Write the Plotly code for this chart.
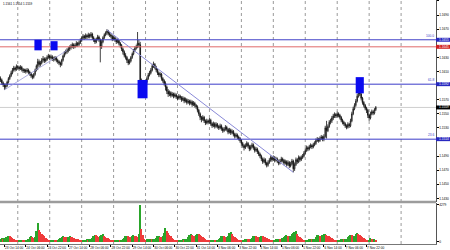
import plotly.graph_objects as go

# ---------------- data (EURUSD H1) ----------------
first_open = 1.1600
closes = [
    1.1598, 1.1594, 1.1591, 1.1588, 1.1590, 1.1595, 1.1600, 1.1604, 1.1608, 1.1612,
    1.1615, 1.1613, 1.1617, 1.1616, 1.1614, 1.1616, 1.1613, 1.1611, 1.1612, 1.1610,
    1.1612, 1.1609, 1.1607, 1.1604, 1.1602, 1.1606, 1.1612, 1.1618, 1.1624, 1.1620,
    1.1622, 1.1626, 1.1628, 1.1625, 1.1627, 1.1630, 1.1632, 1.1629, 1.1631, 1.1628,
    1.1627, 1.1630, 1.1626, 1.1624, 1.1622, 1.1620, 1.1626, 1.1632, 1.1636, 1.1638,
    1.1640, 1.1642, 1.1644, 1.1646, 1.1648, 1.1645, 1.1647, 1.1650, 1.1648, 1.1651,
    1.1654, 1.1657, 1.1660, 1.1658, 1.1661, 1.1659, 1.1662, 1.1660, 1.1663, 1.1658,
    1.1655, 1.1652, 1.1656, 1.1659, 1.1655, 1.1645, 1.1652, 1.1658, 1.1662, 1.1665,
    1.1667, 1.1664, 1.1662, 1.1660, 1.1656, 1.1658, 1.1655, 1.1652, 1.1654, 1.1650,
    1.1647, 1.1642, 1.1638, 1.1633, 1.1630, 1.1626, 1.1622, 1.1625, 1.1630, 1.1635,
    1.1640, 1.1643, 1.1645, 1.1650, 1.1648, 1.1596, 1.1590, 1.1586, 1.1590, 1.1595,
    1.1600, 1.1605, 1.1608, 1.1612, 1.1618, 1.1620, 1.1616, 1.1612, 1.1608, 1.1605,
    1.1606, 1.1600, 1.1597, 1.1593, 1.1588, 1.1582, 1.1578, 1.1580, 1.1576, 1.1578,
    1.1575, 1.1577, 1.1574, 1.1572, 1.1575, 1.1573, 1.1570, 1.1572, 1.1568, 1.1570,
    1.1566, 1.1568, 1.1565, 1.1567, 1.1563, 1.1565, 1.1562, 1.1560, 1.1555, 1.1550,
    1.1545, 1.1542, 1.1545, 1.1540, 1.1537, 1.1540, 1.1538, 1.1541, 1.1536, 1.1533,
    1.1536, 1.1532, 1.1535, 1.1532, 1.1530, 1.1533, 1.1529, 1.1526, 1.1528, 1.1531,
    1.1528, 1.1524, 1.1527, 1.1523, 1.1525, 1.1521, 1.1518, 1.1520, 1.1517, 1.1515,
    1.1512, 1.1508, 1.1505, 1.1502, 1.1505, 1.1508, 1.1504, 1.1500, 1.1503, 1.1506,
    1.1502, 1.1498, 1.1500, 1.1496, 1.1493, 1.1490, 1.1486, 1.1482, 1.1485, 1.1480,
    1.1477, 1.1481, 1.1484, 1.1488, 1.1485, 1.1488, 1.1484, 1.1486, 1.1483, 1.1480,
    1.1483, 1.1486, 1.1484, 1.1480, 1.1482, 1.1478, 1.1481, 1.1476, 1.1479, 1.1483,
    1.1472, 1.1478, 1.1485, 1.1482, 1.1488, 1.1485, 1.1488, 1.1490, 1.1494, 1.1498,
    1.1502, 1.1500, 1.1503, 1.1505, 1.1503, 1.1506, 1.1508, 1.1512, 1.1514, 1.1512,
    1.1515, 1.1517, 1.1514, 1.1518, 1.1530, 1.1526, 1.1532, 1.1538, 1.1540, 1.1544,
    1.1547, 1.1549, 1.1547, 1.1550, 1.1548, 1.1545, 1.1541, 1.1538, 1.1536, 1.1533,
    1.1531, 1.1535, 1.1533, 1.1540, 1.1550, 1.1557, 1.1562, 1.1568, 1.1575, 1.1580,
    1.1578, 1.1572, 1.1566, 1.1562, 1.1558, 1.1555, 1.1548, 1.1544, 1.1550, 1.1553,
    1.1551, 1.1556, 1.1559,
]
highs = [
    1.1603, 1.1600, 1.1596, 1.1593, 1.1593, 1.1597, 1.1602, 1.1606, 1.1611, 1.1615,
    1.1618, 1.1617, 1.1620, 1.1619, 1.1618, 1.1619, 1.1618, 1.1615, 1.1614, 1.1614,
    1.1615, 1.1614, 1.1611, 1.1609, 1.1606, 1.1608, 1.1614, 1.1620, 1.1628, 1.1627,
    1.1625, 1.1629, 1.1632, 1.1630, 1.1630, 1.1633, 1.1635, 1.1634, 1.1634, 1.1633,
    1.1631, 1.1632, 1.1631, 1.1628, 1.1626, 1.1624, 1.1628, 1.1634, 1.1639, 1.1641,
    1.1643, 1.1645, 1.1647, 1.1649, 1.1651, 1.1650, 1.1650, 1.1653, 1.1652, 1.1654,
    1.1657, 1.1660, 1.1663, 1.1662, 1.1664, 1.1663, 1.1665, 1.1664, 1.1666, 1.1665,
    1.1660, 1.1657, 1.1658, 1.1662, 1.1661, 1.1657, 1.1655, 1.1660, 1.1664, 1.1667,
    1.1670, 1.1669, 1.1666, 1.1664, 1.1662, 1.1661, 1.1660, 1.1657, 1.1657, 1.1656,
    1.1652, 1.1649, 1.1644, 1.1640, 1.1636, 1.1632, 1.1628, 1.1628, 1.1632, 1.1637,
    1.1642, 1.1646, 1.1648, 1.1666, 1.1655, 1.1652, 1.1600, 1.1594, 1.1593, 1.1598,
    1.1603, 1.1608, 1.1611, 1.1615, 1.1621, 1.1624, 1.1622, 1.1618, 1.1614, 1.1610,
    1.1609, 1.1608, 1.1602, 1.1599, 1.1596, 1.1590, 1.1585, 1.1583, 1.1582, 1.1581,
    1.1580, 1.1580, 1.1579, 1.1576, 1.1578, 1.1577, 1.1575, 1.1575, 1.1574, 1.1573,
    1.1572, 1.1571, 1.1570, 1.1570, 1.1569, 1.1568, 1.1567, 1.1564, 1.1562, 1.1557,
    1.1552, 1.1547, 1.1548, 1.1547, 1.1542, 1.1543, 1.1542, 1.1544, 1.1543, 1.1538,
    1.1539, 1.1538, 1.1538, 1.1537, 1.1534, 1.1536, 1.1535, 1.1531, 1.1531, 1.1534,
    1.1533, 1.1530, 1.1530, 1.1529, 1.1528, 1.1527, 1.1523, 1.1523, 1.1522, 1.1519,
    1.1517, 1.1514, 1.1510, 1.1507, 1.1508, 1.1511, 1.1510, 1.1506, 1.1506, 1.1509,
    1.1508, 1.1504, 1.1503, 1.1502, 1.1498, 1.1495, 1.1492, 1.1488, 1.1488, 1.1487,
    1.1482, 1.1484, 1.1487, 1.1491, 1.1490, 1.1491, 1.1490, 1.1489, 1.1488, 1.1485,
    1.1486, 1.1489, 1.1488, 1.1486, 1.1485, 1.1484, 1.1484, 1.1483, 1.1482, 1.1486,
    1.1485, 1.1481, 1.1488, 1.1487, 1.1491, 1.1490, 1.1491, 1.1493, 1.1497, 1.1501,
    1.1505, 1.1504, 1.1506, 1.1508, 1.1507, 1.1509, 1.1511, 1.1515, 1.1517, 1.1516,
    1.1518, 1.1520, 1.1519, 1.1521, 1.1533, 1.1540, 1.1535, 1.1541, 1.1543, 1.1547,
    1.1550, 1.1552, 1.1551, 1.1553, 1.1552, 1.1550, 1.1547, 1.1543, 1.1540, 1.1538,
    1.1535, 1.1538, 1.1537, 1.1543, 1.1553, 1.1560, 1.1565, 1.1571, 1.1578, 1.1583,
    1.1585, 1.1580, 1.1574, 1.1568, 1.1564, 1.1560, 1.1557, 1.1550, 1.1553, 1.1556,
    1.1555, 1.1558, 1.1561,
]
lows = [
    1.1595, 1.1591, 1.1588, 1.1584, 1.1585, 1.1588, 1.1593, 1.1598, 1.1602, 1.1606,
    1.1610, 1.1610, 1.1611, 1.1613, 1.1611, 1.1612, 1.1610, 1.1608, 1.1608, 1.1607,
    1.1608, 1.1606, 1.1604, 1.1601, 1.1599, 1.1600, 1.1604, 1.1610, 1.1612, 1.1616,
    1.1617, 1.1620, 1.1623, 1.1622, 1.1623, 1.1625, 1.1628, 1.1626, 1.1627, 1.1625,
    1.1624, 1.1625, 1.1623, 1.1621, 1.1619, 1.1616, 1.1618, 1.1624, 1.1630, 1.1634,
    1.1635, 1.1637, 1.1639, 1.1641, 1.1643, 1.1642, 1.1643, 1.1645, 1.1645, 1.1646,
    1.1649, 1.1652, 1.1655, 1.1655, 1.1656, 1.1656, 1.1657, 1.1657, 1.1658, 1.1655,
    1.1652, 1.1649, 1.1650, 1.1654, 1.1652, 1.1623, 1.1642, 1.1650, 1.1656, 1.1660,
    1.1662, 1.1661, 1.1659, 1.1657, 1.1653, 1.1654, 1.1652, 1.1649, 1.1650, 1.1647,
    1.1644, 1.1639, 1.1634, 1.1630, 1.1627, 1.1622, 1.1619, 1.1620, 1.1623, 1.1628,
    1.1633, 1.1638, 1.1641, 1.1643, 1.1644, 1.1590, 1.1585, 1.1582, 1.1583, 1.1588,
    1.1593, 1.1598, 1.1603, 1.1606, 1.1610, 1.1615, 1.1613, 1.1609, 1.1605, 1.1602,
    1.1602, 1.1597, 1.1594, 1.1590, 1.1583, 1.1578, 1.1574, 1.1575, 1.1573, 1.1574,
    1.1572, 1.1573, 1.1571, 1.1569, 1.1570, 1.1570, 1.1567, 1.1568, 1.1565, 1.1566,
    1.1563, 1.1564, 1.1562, 1.1563, 1.1560, 1.1561, 1.1559, 1.1557, 1.1552, 1.1547,
    1.1541, 1.1538, 1.1540, 1.1537, 1.1534, 1.1535, 1.1535, 1.1536, 1.1533, 1.1530,
    1.1531, 1.1529, 1.1530, 1.1529, 1.1527, 1.1528, 1.1526, 1.1523, 1.1524, 1.1526,
    1.1525, 1.1521, 1.1522, 1.1520, 1.1521, 1.1518, 1.1515, 1.1516, 1.1514, 1.1512,
    1.1509, 1.1505, 1.1502, 1.1498, 1.1500, 1.1503, 1.1501, 1.1497, 1.1498, 1.1501,
    1.1499, 1.1495, 1.1496, 1.1493, 1.1490, 1.1487, 1.1483, 1.1479, 1.1480, 1.1477,
    1.1474, 1.1475, 1.1479, 1.1482, 1.1482, 1.1483, 1.1481, 1.1482, 1.1480, 1.1477,
    1.1478, 1.1481, 1.1481, 1.1477, 1.1478, 1.1475, 1.1476, 1.1473, 1.1474, 1.1477,
    1.1467, 1.1469, 1.1476, 1.1479, 1.1480, 1.1482, 1.1483, 1.1486, 1.1488, 1.1492,
    1.1496, 1.1497, 1.1498, 1.1501, 1.1500, 1.1501, 1.1504, 1.1506, 1.1510, 1.1509,
    1.1510, 1.1513, 1.1511, 1.1511, 1.1516, 1.1515, 1.1524, 1.1530, 1.1535, 1.1537,
    1.1541, 1.1544, 1.1544, 1.1545, 1.1545, 1.1542, 1.1538, 1.1535, 1.1533, 1.1530,
    1.1528, 1.1529, 1.1530, 1.1531, 1.1538, 1.1548, 1.1555, 1.1560, 1.1566, 1.1573,
    1.1575, 1.1569, 1.1563, 1.1559, 1.1555, 1.1551, 1.1544, 1.1540, 1.1542, 1.1548,
    1.1548, 1.1549, 1.1554,
]
volumes = [
    380, 420, 350, 460, 520, 600, 720, 640, 560, 430, 350, 260, 180,
    140, 170, 210, 240, 220, 200, 230, 260, 330, 560, 620, 540, 500, 580, 1250, 2200, 1400, 1150, 900, 780, 620, 450, 300, 190,
    150, 180, 220, 260, 240, 230, 250, 300, 420, 600, 640, 560, 520, 500, 580, 650, 600, 520, 450, 380, 330, 280, 210, 150,
    140, 190, 240, 270, 300, 260, 280, 340, 480, 700, 820, 760, 620, 580, 650, 820, 860, 700, 560, 480, 400, 330, 240, 160,
    130, 170, 210, 240, 260, 230, 250, 300, 420, 620, 700, 640, 560, 540, 620, 760, 700, 620, 580, 900, 4279, 1450, 820, 380,
    260, 300, 320, 330, 340, 300, 320, 380, 480, 620, 680, 600, 580, 640, 1000, 1650, 1200, 980, 760, 620, 480, 380, 260, 180,
    150, 200, 240, 270, 280, 260, 280, 360, 560, 800, 860, 760, 700, 680, 820, 950, 900, 780, 640, 520, 420, 340, 250, 170,
    130, 190, 230, 260, 250, 240, 250, 300, 480, 660, 700, 620, 560, 600, 720, 980, 1150, 900, 700, 560, 440, 360, 250, 170,
    150, 210, 250, 300, 320, 290, 280, 340, 500, 640, 700, 640, 560, 540, 600, 720, 680, 600, 520, 440, 380, 320, 240, 170,
    160, 220, 280, 340, 380, 360, 340, 400, 560, 700, 760, 700, 640, 680, 860, 980, 1100, 1280, 900, 700, 560, 420, 300, 200,
    160, 210, 260, 300, 320, 300, 300, 360, 520, 760, 820, 720, 680, 740, 880, 900, 840, 720, 620, 520, 420, 340, 250, 170,
    150, 200, 250, 290, 300, 280, 290, 350, 520, 720, 800, 740, 680, 720, 900, 1050, 960, 820, 680, 560, 440, 340, 240, 160,
    260, 420, 300, 280, 320, 150,
]

tick_bars = [3, 19, 35, 51, 67, 83, 99, 115, 131, 147, 163, 179, 195, 211, 227, 243, 259, 275]
tick_text = ["23 Oct 14:00", "24 Oct 06:00", "24 Oct 22:00", "27 Oct 14:00", "28 Oct 06:00",
             "28 Oct 22:00", "29 Oct 14:00", "30 Oct 06:00", "30 Oct 22:00", "31 Oct 14:00",
             "3 Nov 06:00", "3 Nov 22:00", "4 Nov 14:00", "5 Nov 06:00", "5 Nov 22:00",
             "6 Nov 14:00", "7 Nov 06:00", "7 Nov 22:00"]
day_separator_bars = [13, 37, 61, 85, 109, 133, 157, 181, 205, 229, 253, 277, 301]
price_ticks = [1.1710, 1.1690, 1.1670, 1.1630, 1.1610, 1.1570, 1.1550, 1.1530,
               1.1490, 1.1470, 1.1450, 1.1430]

level_prices = [1.1655, 1.1645, 1.1592, 1.1514]
level_tags = ["100.0", "", "61.8", "23.6"]

trend_bars = [80, 220]
trend_prices = [1.1669, 1.1467]
support_bars = [3, 50]
support_prices = [1.1584, 1.1640]

box_bar0 = [25.5, 37.6, 103.0, 266.9]
box_bar1 = [31.0, 42.9, 110.5, 273.0]
box_top = [1.1655, 1.1653, 1.1598, 1.1602]
box_bottom = [1.1640, 1.1640, 1.1572, 1.1579]

title_text = "1.1561 1.1554 1.1559"

# ---------------- figure ----------------
W, H = 450, 250
MR, MB = 14, 6
plot_w = W - MR
plot_h = H - MB
split = (plot_h - 202) / plot_h
vol_top = (plot_h - 203) / plot_h

n = len(closes)
bars = list(range(n))
opens = [first_open] + closes[:-1]
vol_colors = ["#2aa52a" if (i == 0 or volumes[i] >= volumes[i - 1]) else "#ef3b3b" for i in range(n)]

px_per_bar = 1.331
x0 = -0.35
x1 = x0 + plot_w / px_per_bar
p_hi = 1.17114
p_lo = 1.14249

fig = go.Figure()
fig.add_trace(go.Candlestick(
    x=bars, open=opens, high=highs, low=lows, close=closes,
    increasing=dict(line=dict(color="#111111", width=0.8), fillcolor="#ffffff"),
    decreasing=dict(line=dict(color="#111111", width=0.8), fillcolor="#111111"),
    whiskerwidth=0, xaxis="x", yaxis="y", hoverinfo="skip", showlegend=False))
fig.add_trace(go.Bar(
    x=bars, y=volumes, width=1.0, marker=dict(color=vol_colors, line=dict(width=0)),
    xaxis="x2", yaxis="y2", hoverinfo="skip", showlegend=False))

shapes = []
for b in day_separator_bars:
    shapes.append(dict(type="line", xref="x", yref="paper", x0=b, x1=b, y0=0, y1=1,
                       line=dict(color="#9a9a9a", width=1, dash="dot"), layer="below"))
# panel separator
shapes.append(dict(type="line", xref="paper", yref="paper", x0=0, x1=1, y0=split, y1=split,
                   line=dict(color="#9c9c9c", width=2.5)))
# current price line
shapes.append(dict(type="line", xref="paper", yref="y", x0=0, x1=1, y0=closes[-1], y1=closes[-1],
                   line=dict(color="#cfcfcf", width=1), layer="below"))
level_colors = ["#4040c8", "#e06a6a", "#3a3ac8", "#3a3ac8"]
box_colors = ["#2828c0", "#d02020", "#2828c0", "#2828c0"]
for p, c in zip(level_prices, level_colors):
    shapes.append(dict(type="line", xref="paper", yref="y", x0=0, x1=1, y0=p, y1=p,
                       line=dict(color=c, width=1)))
# trend lines
shapes.append(dict(type="line", xref="x", yref="y", x0=trend_bars[0], x1=trend_bars[1],
                   y0=trend_prices[0], y1=trend_prices[1], line=dict(color="#8a8ad8", width=1)))
shapes.append(dict(type="line", xref="x", yref="y", x0=support_bars[0], x1=support_bars[1],
                   y0=support_prices[0], y1=support_prices[1], line=dict(color="#9a9ad8", width=0.8)))
# blue marker boxes
for a, b, t, btm in zip(box_bar0, box_bar1, box_top, box_bottom):
    shapes.append(dict(type="rect", xref="x", yref="y", x0=a, x1=b, y0=btm, y1=t,
                       fillcolor="#0a0af0", line=dict(width=0), layer="above"))
# right axis price boxes
half_h = 0.00028
ax_w = (MR) / plot_w
all_box_prices = level_prices + [closes[-1]]
all_box_colors = box_colors + ["#000000"]
for p, c in zip(all_box_prices, all_box_colors):
    shapes.append(dict(type="rect", xref="paper", yref="y", x0=1.0, x1=1.0 + ax_w,
                       y0=p - half_h, y1=p + half_h, fillcolor=c, line=dict(width=0)))

annotations = []
for p in all_box_prices:
    annotations.append(dict(xref="paper", yref="y", x=1.0 + 1.0 / plot_w, y=p, xanchor="left",
                            yanchor="middle", text=f"{p:.4f}", showarrow=False,
                            font=dict(size=3.2, color="white", family="Liberation Sans")))
for p, tag in zip(level_prices, level_tags):
    if tag:
        annotations.append(dict(xref="paper", yref="y", x=1.0 - 0.5 / plot_w, y=p, xanchor="right",
                                yanchor="bottom", text=tag, showarrow=False,
                                font=dict(size=3.2, color="#3a3ac8", family="Liberation Sans")))
annotations.append(dict(xref="paper", yref="paper", x=0.002, y=1.0, xanchor="left", yanchor="top",
                        text=title_text, showarrow=False,
                        font=dict(size=3.0, color="#000", family="Liberation Sans")))

fig.update_layout(
    width=W, height=H, margin=dict(l=0, r=MR, t=0, b=MB, pad=0, autoexpand=False),
    paper_bgcolor="white", plot_bgcolor="white", showlegend=False, bargap=0,
    hovermode=False,
    font=dict(family="Liberation Sans", size=3.2, color="#000"),
    xaxis=dict(domain=[0, 1], anchor="y", range=[x0, x1], showticklabels=False, showgrid=False,
               zeroline=False, ticks="", rangeslider=dict(visible=False), automargin=False),
    xaxis2=dict(domain=[0, 1], anchor="y2", matches="x", range=[x0, x1], tickmode="array",
                tickvals=tick_bars, ticktext=tick_text, ticklabelposition="outside right",
                tickangle=0, ticks="outside", ticklen=2, tickwidth=0.6, tickcolor="#000",
                tickfont=dict(size=3.2, color="#000"), showgrid=False, zeroline=False,
                showline=True, linecolor="#777", linewidth=0.6, automargin=False),
    yaxis=dict(domain=[split, 1], anchor="x", side="right", range=[p_lo, p_hi], tickmode="array",
               tickvals=price_ticks, tickformat=".4f", ticks="outside", ticklen=1.5, tickwidth=0.6,
               tickcolor="#000", tickfont=dict(size=3.2, color="#000"), showline=True,
               linecolor="#555", linewidth=1, showgrid=False, zeroline=False, automargin=False),
    yaxis2=dict(domain=[0, vol_top], anchor="x2", side="right", range=[-250, 4500], tickmode="array",
                tickvals=[0, max(volumes)], ticktext=["0", str(max(volumes))], ticks="outside",
                ticklen=1.5, tickwidth=0.6, tickcolor="#000", tickfont=dict(size=3.2, color="#000"),
                showline=True, linecolor="#555", linewidth=1, showgrid=False, zeroline=False,
                automargin=False),
    shapes=shapes, annotations=annotations,
)

fig.write_html("out.html")
